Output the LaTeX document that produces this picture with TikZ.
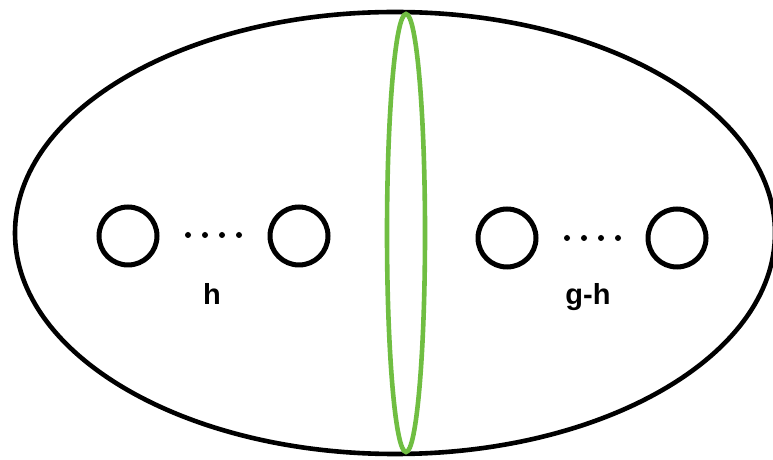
\documentclass[tikz,border=0pt]{standalone}
\usepackage{fontspec}
\setmainfont{Liberation Sans}
\usetikzlibrary{shapes.geometric}
\definecolor{loopgreen}{RGB}{112,190,66}
\tikzset{
  hole/.style={circle, draw=black, line width=5pt, minimum size=58pt, inner sep=0pt},
  dotnode/.style={circle, fill=black, minimum size=6pt, inner sep=0pt},
  lbl/.style={font=\fontsize{29}{32}\selectfont\bfseries, inner sep=0pt}
}
\begin{document}
\begin{tikzpicture}[x=1pt,y=1pt]
\useasboundingbox (0,0) rectangle (773,460);
\fill[white] (0,0) rectangle (773,460);
% outer surface
\draw[line width=4.6pt] (395,227) ellipse [x radius=380, y radius=221];
% separating curve
\draw[loopgreen, line width=4.6pt] (406,227) ellipse [x radius=19, y radius=219];
% holes
\node[hole] (c1) at (128,224) {};
\node[hole] (c2) at (299,224) {};
\node[hole] (c3) at (507,222) {};
\node[hole] (c4) at (677,222) {};
% dots
\node[dotnode] (d1) at (188,225) {};
\node[dotnode] (d2) at (205,225) {};
\node[dotnode] (d3) at (222,225) {};
\node[dotnode] (d4) at (239,225) {};
\node[dotnode] (e1) at (567,222) {};
\node[dotnode] (e2) at (584,222) {};
\node[dotnode] (e3) at (601,222) {};
\node[dotnode] (e4) at (618,222) {};
% labels
\node[lbl, anchor=base] (h) at (212,155) {h};
\node[lbl, anchor=base] (gh) at (588,155) {g-h};
\end{tikzpicture}
\end{document}
